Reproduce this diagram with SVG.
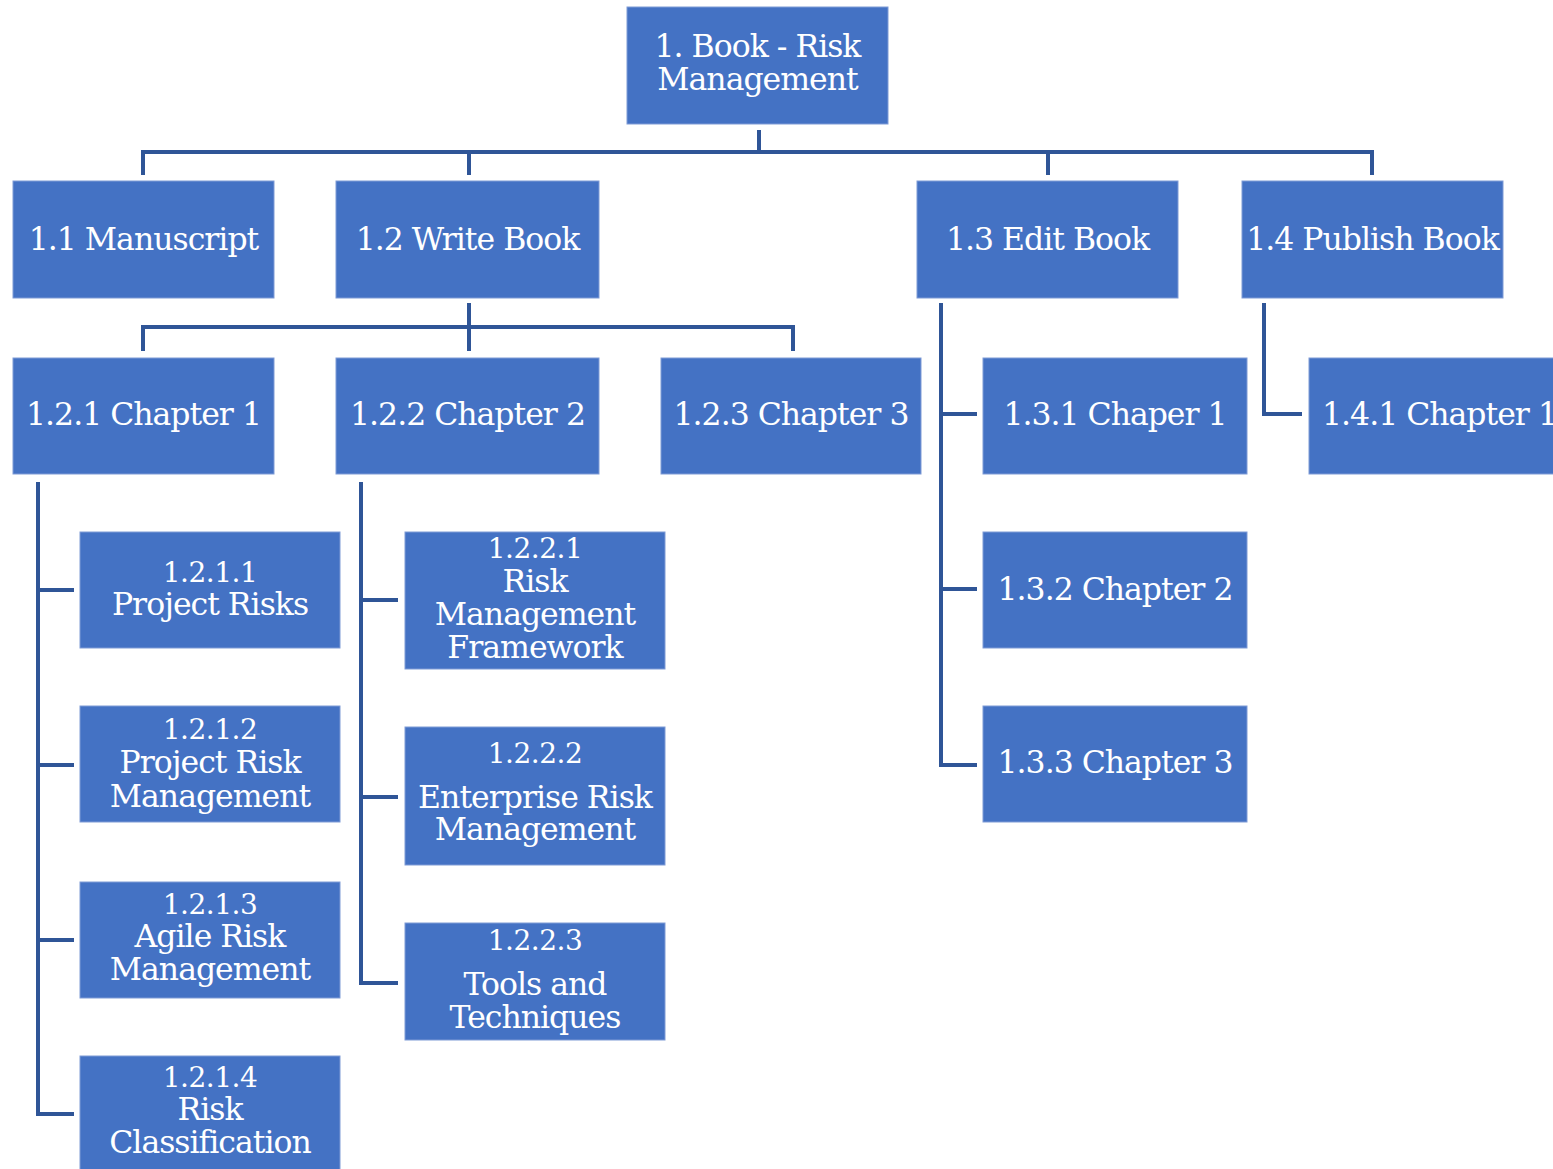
<svg xmlns="http://www.w3.org/2000/svg" width="1553" height="1169" viewBox="0 0 1553 1169">
<style>
.box{fill:#4472C4;stroke:#7F9BD6;stroke-width:1}
.t{font-size:31.5px;fill:#ffffff;text-anchor:middle;letter-spacing:-1px}
.n{font-size:28px;letter-spacing:-0.5px}
.c{fill:none;stroke:#2F5597;stroke-width:4;stroke-linejoin:miter;stroke-linecap:butt}
</style>
<rect width="1553" height="1169" fill="#ffffff"/>
<g id="connectors">
<path class="c" d="M759 130V152M143 175V152H1372V175M469 152V175M1048 152V175"/>
<path class="c" d="M469 303V351M143 351V327H793V351"/>
<path class="c" d="M941 303V765H977M941 414H977M941 589H977"/>
<path class="c" d="M1264 303V414H1302"/>
<path class="c" d="M38 482V1114H74M38 590H74M38 765H74M38 940H74"/>
<path class="c" d="M361 482V983H398M361 600H398M361 797H398"/>
</g>
<g font-family="DejaVu Serif, serif">
<g id="n1"><rect class="box" x="627" y="7" width="261" height="117"/><text class="t" x="757.5" y="57">1. Book - Risk</text><text class="t" x="757.5" y="90">Management</text></g>
<g id="n1-1"><rect class="box" x="13" y="181" width="261" height="117"/><text class="t" x="143.5" y="250">1.1 Manuscript</text></g>
<g id="n1-2"><rect class="box" x="336" y="181" width="263" height="117"/><text class="t" x="467.5" y="250">1.2 Write Book</text></g>
<g id="n1-3"><rect class="box" x="917" y="181" width="261" height="117"/><text class="t" x="1047.5" y="250">1.3 Edit Book</text></g>
<g id="n1-4"><rect class="box" x="1242" y="181" width="261" height="117"/><text class="t" x="1372.5" y="250">1.4 Publish Book</text></g>
<g id="n1-2-1"><rect class="box" x="13" y="358" width="261" height="116"/><text class="t" x="143.5" y="425">1.2.1 Chapter 1</text></g>
<g id="n1-2-2"><rect class="box" x="336" y="358" width="263" height="116"/><text class="t" x="467.5" y="425">1.2.2 Chapter 2</text></g>
<g id="n1-2-3"><rect class="box" x="661" y="358" width="260" height="116"/><text class="t" x="791" y="425">1.2.3 Chapter 3</text></g>
<g id="n1-3-1"><rect class="box" x="983" y="358" width="264" height="116"/><text class="t" x="1115" y="425">1.3.1 Chaper 1</text></g>
<g id="n1-3-2"><rect class="box" x="983" y="532" width="264" height="116"/><text class="t" x="1115" y="600">1.3.2 Chapter 2</text></g>
<g id="n1-3-3"><rect class="box" x="983" y="706" width="264" height="116"/><text class="t" x="1115" y="773">1.3.3 Chapter 3</text></g>
<g id="n1-4-1"><rect class="box" x="1309" y="358" width="261" height="116"/><text class="t" x="1439.5" y="425">1.4.1 Chapter 1</text></g>
<g id="n1-2-1-1"><rect class="box" x="80" y="532" width="260" height="116"/><text class="t n" x="210" y="582">1.2.1.1</text><text class="t" x="210" y="615">Project Risks</text></g>
<g id="n1-2-1-2"><rect class="box" x="80" y="706" width="260" height="116"/><text class="t n" x="210" y="739">1.2.1.2</text><text class="t" x="210" y="773">Project Risk</text><text class="t" x="210" y="807">Management</text></g>
<g id="n1-2-1-3"><rect class="box" x="80" y="882" width="260" height="116"/><text class="t n" x="210" y="914">1.2.1.3</text><text class="t" x="210" y="947">Agile Risk</text><text class="t" x="210" y="980">Management</text></g>
<g id="n1-2-1-4"><rect class="box" x="80" y="1056" width="260" height="120"/><text class="t n" x="210" y="1087">1.2.1.4</text><text class="t" x="210" y="1120">Risk</text><text class="t" x="210" y="1153">Classification</text></g>
<g id="n1-2-2-1"><rect class="box" x="405" y="532" width="260" height="137"/><text class="t n" x="535" y="558">1.2.2.1</text><text class="t" x="535" y="592">Risk</text><text class="t" x="535" y="625">Management</text><text class="t" x="535" y="658">Framework</text></g>
<g id="n1-2-2-2"><rect class="box" x="405" y="727" width="260" height="138"/><text class="t n" x="535" y="763">1.2.2.2</text><text class="t" x="535" y="808">Enterprise Risk</text><text class="t" x="535" y="840">Management</text></g>
<g id="n1-2-2-3"><rect class="box" x="405" y="923" width="260" height="117"/><text class="t n" x="535" y="950">1.2.2.3</text><text class="t" x="535" y="995">Tools and</text><text class="t" x="535" y="1028">Techniques</text></g>
</g>
</svg>
